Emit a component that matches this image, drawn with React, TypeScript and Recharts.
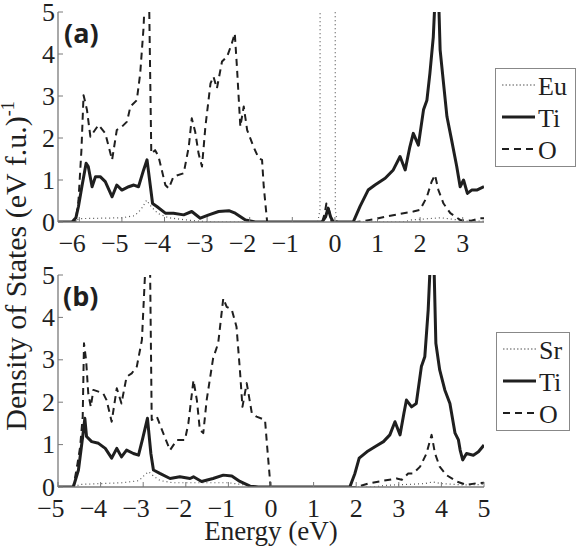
import React from 'react';
import { LineChart, Line, XAxis, YAxis, Legend } from 'recharts';

const SERIF = '"Liberation Serif", "Times New Roman", serif';
const SANS = '"Open Sans", "Noto Sans", sans-serif';
const INK = '#1f1f1f';
const BOX = '#7a7a7a';

// ---------- axes ----------
const xTicksA = [-6, -5, -4, -3, -2, -1, 0, 1, 2, 3];
const xTicksB = [-5, -4, -3, -2, -1, 0, 1, 2, 3, 4, 5];
const yTicks = [0, 1, 2, 3, 4, 5];
const domainA: [number, number] = [-6.5, 3.5];
const domainB: [number, number] = [-5, 5];
const domainY: [number, number] = [0, 5];

// ---------- panel (a): Eu, Ti, O  [energy (eV), DOS] ----------
const euA: [number, number][] = [
  [-6.5, 0], [-6.15, 0], [-6.0, 0.08], [-5.5, 0.09], [-5.0, 0.1], [-4.7, 0.15], [-4.55, 0.3],
  [-4.42, 0.52], [-4.3, 0.35], [-4.15, 0.2], [-3.9, 0.1], [-3.5, 0.05], [-3.2, 0.02], [-2.9, 0],
  [-0.4, 0], [-0.35, 0.3], [-0.33, 40], [-0.01, 40], [0.01, 0.3], [0.05, 0],
  [1.6, 0], [1.8, 0.05], [2.2, 0.08], [2.5, 0.1], [2.8, 0.06], [3.1, 0.02], [3.5, 0.02],
];
const tiA: [number, number][] = [
  [-6.5, 0], [-6.17, 0], [-6.08, 0.1], [-6.02, 0.37], [-5.94, 0.84], [-5.84, 1.4], [-5.79, 1.32],
  [-5.7, 0.84], [-5.62, 1.08], [-5.51, 1.08], [-5.39, 0.96], [-5.23, 0.6], [-5.12, 0.88],
  [-5.0, 0.76], [-4.84, 0.84], [-4.72, 0.88], [-4.61, 0.84], [-4.49, 1.24], [-4.41, 1.48],
  [-4.33, 0.84], [-4.28, 0.44], [-4.18, 0.37], [-3.98, 0.21], [-3.79, 0.21], [-3.55, 0.17],
  [-3.36, 0.25], [-3.16, 0.09], [-2.96, 0.17], [-2.73, 0.25], [-2.49, 0.27], [-2.34, 0.21],
  [-2.1, 0.05], [-1.87, 0], [-0.3, 0], [-0.22, 0.12], [-0.16, 0.33], [-0.1, 0.12], [-0.04, 0],
  [0.43, 0], [0.59, 0.37], [0.78, 0.76], [0.94, 0.88], [1.18, 1.04], [1.37, 1.24], [1.53, 1.56],
  [1.65, 1.24], [1.76, 1.79], [1.84, 2.11], [1.96, 1.83], [2.08, 2.67], [2.16, 2.9], [2.23, 3.54],
  [2.31, 4.41], [2.35, 5.3], [2.39, 7.0], [2.43, 5.5], [2.47, 4.1], [2.55, 3.3], [2.63, 2.51],
  [2.74, 1.95], [2.86, 1.32], [2.94, 0.84], [3.02, 1.0], [3.11, 0.68], [3.21, 0.76], [3.33, 0.76],
  [3.5, 0.84],
];
const oA: [number, number][] = [
  [-6.5, 0], [-6.09, 0], [-6.02, 0.5], [-5.95, 1.71], [-5.9, 3.02], [-5.82, 2.67], [-5.74, 2.03],
  [-5.66, 2.15], [-5.55, 2.31], [-5.39, 2.11], [-5.23, 1.48], [-5.12, 2.19], [-5.0, 2.27],
  [-4.88, 2.39], [-4.8, 2.75], [-4.65, 2.9], [-4.57, 3.54], [-4.49, 4.65], [-4.44, 6.0],
  [-4.36, 5.2], [-4.31, 1.63], [-4.22, 1.71], [-4.14, 1.56], [-3.98, 0.88], [-3.9, 0.8],
  [-3.79, 1.08], [-3.55, 1.16], [-3.43, 1.79], [-3.36, 2.47], [-3.28, 2.15], [-3.2, 1.63],
  [-3.12, 1.32], [-3.04, 2.27], [-2.92, 3.3], [-2.85, 3.46], [-2.77, 3.18], [-2.65, 3.82],
  [-2.53, 3.94], [-2.42, 4.25], [-2.35, 4.49], [-2.3, 3.7], [-2.22, 2.27], [-2.14, 2.75],
  [-2.06, 2.19], [-1.91, 1.79], [-1.79, 1.52], [-1.71, 1.48], [-1.67, 0.84], [-1.59, 0],
  [-0.3, 0], [-0.24, 0.2], [-0.2, 0.44], [-0.14, 0.3], [-0.08, 0], [0.5, 0], [0.9, 0.06],
  [1.21, 0.13], [1.61, 0.21], [1.84, 0.25], [2.0, 0.29], [2.16, 0.6], [2.27, 0.96], [2.35, 1.12],
  [2.43, 0.76], [2.55, 0.44], [2.71, 0.21], [2.94, 0.05], [3.2, 0.03], [3.41, 0.09], [3.5, 0.09],
];

// ---------- panel (b): Sr, Ti, O ----------
const srB: [number, number][] = [
  [-5, 0], [-4.6, 0], [-4.5, 0.06], [-4.0, 0.08], [-3.5, 0.1], [-3.1, 0.15], [-2.95, 0.3],
  [-2.87, 0.36], [-2.75, 0.25], [-2.6, 0.15], [-2.3, 0.1], [-1.5, 0.1], [-1.0, 0.1], [-0.7, 0.06],
  [-0.4, 0.02], [-0.2, 0], [2.4, 0], [2.7, 0.04], [3.2, 0.06], [3.6, 0.08], [3.8, 0.12],
  [4.0, 0.08], [4.5, 0.05], [5.0, 0.06],
];
const tiB: [number, number][] = [
  [-5, 0], [-4.64, 0], [-4.52, 0.4], [-4.42, 1.19], [-4.37, 1.62], [-4.33, 1.19], [-4.21, 1.07],
  [-4.05, 1.03], [-3.89, 0.91], [-3.74, 0.68], [-3.62, 0.91], [-3.51, 0.71], [-3.39, 0.87],
  [-3.23, 0.79], [-3.11, 0.75], [-3.01, 1.15], [-2.9, 1.62], [-2.82, 0.79], [-2.76, 0.4],
  [-2.61, 0.32], [-2.37, 0.2], [-2.14, 0.24], [-1.9, 0.2], [-1.82, 0.24], [-1.63, 0.13],
  [-1.36, 0.2], [-1.12, 0.28], [-0.92, 0.26], [-0.73, 0.13], [-0.49, 0.02], [-0.3, 0],
  [1.85, 0], [1.97, 0.32], [2.07, 0.68], [2.25, 0.83], [2.44, 0.95], [2.64, 1.07], [2.79, 1.23],
  [2.91, 1.54], [3.03, 1.23], [3.12, 1.74], [3.18, 2.05], [3.3, 1.89], [3.41, 1.97], [3.53, 2.84],
  [3.61, 3.07], [3.69, 4.18], [3.74, 5.3], [3.78, 7.0], [3.82, 5.5], [3.87, 3.39], [3.96, 2.76],
  [4.08, 2.29], [4.2, 1.97], [4.32, 1.27], [4.4, 1.11], [4.44, 0.87], [4.5, 0.64], [4.59, 0.79],
  [4.75, 0.75], [4.87, 0.83], [5.0, 0.99],
];
const oB: [number, number][] = [
  [-5, 0], [-4.64, 0], [-4.55, 0.5], [-4.48, 0.95], [-4.42, 1.66], [-4.39, 3.39], [-4.34, 2.99],
  [-4.29, 2.21], [-4.23, 1.89], [-4.17, 2.29], [-4.05, 2.25], [-3.94, 2.21], [-3.86, 2.05],
  [-3.74, 1.54], [-3.62, 2.33], [-3.51, 1.97], [-3.39, 2.6], [-3.27, 2.68], [-3.15, 2.84],
  [-3.03, 3.47], [-2.96, 4.96], [-2.9, 6.5], [-2.84, 5.3], [-2.8, 1.58], [-2.68, 1.66],
  [-2.53, 1.27], [-2.37, 0.87], [-2.21, 1.11], [-2.02, 1.11], [-1.94, 1.5], [-1.82, 2.52],
  [-1.74, 2.05], [-1.67, 1.35], [-1.59, 1.27], [-1.51, 2.05], [-1.36, 3.03], [-1.24, 3.39],
  [-1.12, 4.45], [-1.04, 4.25], [-0.92, 4.18], [-0.81, 3.78], [-0.73, 2.76], [-0.67, 1.89],
  [-0.57, 2.45], [-0.45, 1.74], [-0.34, 1.66], [-0.14, 1.58], [-0.09, 0.95], [-0.01, 0],
  [2.01, 0], [2.32, 0.09], [2.64, 0.15], [2.95, 0.2], [3.07, 0.17], [3.22, 0.32], [3.34, 0.32],
  [3.5, 0.48], [3.65, 0.79], [3.77, 1.23], [3.85, 0.79], [3.96, 0.48], [4.12, 0.28], [4.36, 0.13],
  [4.59, 0.05], [4.83, 0.09], [5.0, 0.1],
];

const toPts = (arr: [number, number][]) => arr.map(([e, v]) => ({ e, v }));

type Style = { stroke: string; strokeWidth: number; strokeDasharray?: string; legendDash?: string };
const dotted: Style = { stroke: '#555', strokeWidth: 1.2, strokeDasharray: '1 3', legendDash: '1.5 2' };
const solid: Style = { stroke: INK, strokeWidth: 3 };
const dashed: Style = { stroke: INK, strokeWidth: 2, strokeDasharray: '7 5', legendDash: '7 5' };

const serifStyle = { fontFamily: SERIF };

// digit centred on the tick, minus sign hanging to its left
const BottomTick = (p: any) => {
  const v: number = p.payload.value;
  const digits = String(Math.abs(v));
  return (
    <g>
      <line x1={p.x} x2={p.x} y1={p.y} y2={p.y - 5} stroke={BOX} strokeWidth={1} />
      <text x={p.x} y={p.y + 30} textAnchor="middle" fontSize={26} style={serifStyle} fill={INK}>
        {digits}
      </text>
      {v < 0 && (
        <text x={p.x - 6} y={p.y + 30} textAnchor="end" fontSize={26} style={serifStyle} fill={INK}>
          {'\u2212'}
        </text>
      )}
    </g>
  );
};
const TopTick = (p: any) => (
  <line x1={p.x} x2={p.x} y1={p.y} y2={p.y + 5} stroke={BOX} strokeWidth={1} />
);
const LeftTick = (p: any) => (
  <g>
    <line x1={p.x} x2={p.x + 5} y1={p.y} y2={p.y} stroke={BOX} strokeWidth={1} />
    <text x={p.x - 3} y={p.y + 8.5} textAnchor="end" fontSize={26} style={serifStyle} fill={INK}>
      {p.payload.value}
    </text>
  </g>
);
const RightTick = (p: any) => (
  <line x1={p.x} x2={p.x - 5} y1={p.y} y2={p.y} stroke={BOX} strokeWidth={1} />
);

type Item = { label: string; style: Style };

const LegendBox = ({ items, width }: { items: Item[]; width: number }) => (
  <svg width={width} height={99} style={{ display: 'block' }}>
    <rect x={0.5} y={0.5} width={width - 1} height={98} fill="#fff" stroke="#888" strokeWidth={1} />
    {items.map((it, i) => {
      const y = 17 + i * 32;
      return (
        <g key={it.label}>
          <line x1={7} x2={40} y1={y} y2={y} stroke={it.style.stroke} strokeWidth={it.style.strokeWidth} strokeDasharray={it.style.legendDash} />
          <text x={43} y={y + 9.5} fontSize={26} style={serifStyle} fill={INK}>{it.label}</text>
        </g>
      );
    })}
  </svg>
);

const axisLine = { stroke: BOX, strokeWidth: 1.3 };

function Panel(props: {
  height: number;
  top: number;
  xHeight: number;
  domain: [number, number];
  xTicks: number[];
  series: { name: string; data: [number, number][]; style: Style }[];
  legendTop: number;
  legendLeft: number;
  legendWidth: number;
}) {
  const items = props.series.map((s) => ({ label: s.name, style: s.style }));
  return (
    <LineChart width={576} height={props.height} margin={{ top: props.top, right: 92, bottom: 0, left: 0 }}>
      <XAxis
        xAxisId={0}
        type="number"
        dataKey="e"
        domain={props.domain}
        ticks={props.xTicks}
        interval={0}
        allowDataOverflow
        height={props.xHeight}
        tickSize={0}
        tickMargin={0}
        tickLine={false}
        axisLine={axisLine}
        tick={<BottomTick />}
      />
      <XAxis
        xAxisId="top"
        orientation="top"
        type="number"
        domain={props.domain}
        ticks={props.xTicks}
        interval={0}
        allowDataOverflow
        height={0}
        tickSize={0}
        tickMargin={0}
        tickLine={false}
        axisLine={axisLine}
        tick={<TopTick />}
      />
      <YAxis
        yAxisId={0}
        type="number"
        domain={domainY}
        ticks={yTicks}
        interval={0}
        allowDataOverflow
        width={58}
        tickSize={0}
        tickMargin={0}
        tickLine={false}
        axisLine={axisLine}
        tick={<LeftTick />}
      />
      <YAxis
        yAxisId="right"
        orientation="right"
        type="number"
        domain={domainY}
        ticks={yTicks}
        interval={0}
        allowDataOverflow
        width={0}
        tickSize={0}
        tickMargin={0}
        tickLine={false}
        axisLine={axisLine}
        tick={<RightTick />}
      />
      {props.series.map((s) => (
        <Line
          key={s.name}
          xAxisId={0}
          yAxisId={0}
          name={s.name}
          data={toPts(s.data)}
          dataKey="v"
          type="linear"
          dot={false}
          activeDot={false}
          isAnimationActive={false}
          stroke={s.style.stroke}
          strokeWidth={s.style.strokeWidth}
          strokeDasharray={s.style.strokeDasharray}
          strokeLinejoin="round"
        />
      ))}
      <Legend
        layout="vertical"
        align="center"
        verticalAlign="middle"
        wrapperStyle={{ left: props.legendLeft, top: props.legendTop, width: props.legendWidth, height: 99 }}
        content={() => <LegendBox items={items} width={props.legendWidth} />}
      />
    </LineChart>
  );
}

export default function App() {
  return (
    <div style={{ position: 'absolute', left: 0, top: 0, width: 576, height: 551, background: '#fff', fontFamily: SERIF }}>
      <div style={{ position: 'absolute', left: 0, top: 0 }}>
        <Panel
          height={260}
          top={12}
          xHeight={38}
          domain={domainA}
          xTicks={xTicksA}
          series={[
            { name: 'Eu', data: euA, style: dotted },
            { name: 'Ti', data: tiA, style: solid },
            { name: 'O', data: oA, style: dashed },
          ]}
          legendLeft={495}
          legendTop={68}
          legendWidth={81}
        />
      </div>
      <div style={{ position: 'absolute', left: 0, top: 260 }}>
        <Panel
          height={291}
          top={15}
          xHeight={64}
          domain={domainB}
          xTicks={xTicksB}
          series={[
            { name: 'Sr', data: srB, style: dotted },
            { name: 'Ti', data: tiB, style: solid },
            { name: 'O', data: oB, style: dashed },
          ]}
          legendLeft={496}
          legendTop={72}
          legendWidth={74}
        />
      </div>
      <svg width={576} height={551} style={{ position: 'absolute', left: 0, top: 0, pointerEvents: 'none' }}>
        <text x={64} y={43} fontSize={27} fontWeight={700} style={{ fontFamily: SANS }} fill={INK}>(a)</text>
        <text x={63} y={306} fontSize={27} fontWeight={700} style={{ fontFamily: SANS }} fill={INK}>(b)</text>
        <text x={271} y={540} textAnchor="middle" fontSize={27} style={serifStyle} fill={INK}>Energy (eV)</text>
        <text transform="translate(26,266) rotate(-90)" textAnchor="middle" fontSize={30} style={serifStyle} fill={INK}>
          Density of States (eV f.u.)
          <tspan dy={-12} fontSize={18}>-1</tspan>
        </text>
      </svg>
    </div>
  );
}
